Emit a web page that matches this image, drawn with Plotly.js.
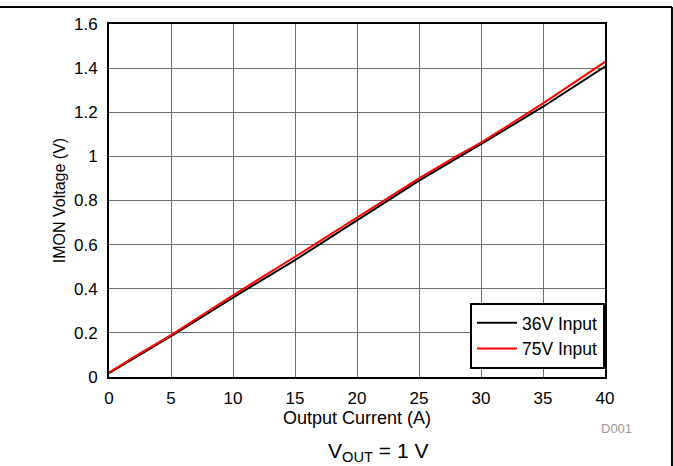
<!DOCTYPE html>
<html><head><meta charset="utf-8">
<script src="https://cdn.plot.ly/plotly-3.0.1.min.js"></script>
<style>html,body{margin:0;padding:0;background:#fff}#c{width:673px;height:466px}</style>
</head><body><div id="c"></div>
<script>
const current = [0, 2, 5, 10, 15, 20, 25, 28, 30, 35, 40];
const v36 = [0.018, 0.085, 0.185, 0.36, 0.53, 0.71, 0.89, 0.99, 1.055, 1.225, 1.407];
const v75 = [0.02, 0.09, 0.19, 0.37, 0.545, 0.722, 0.9, 1.0, 1.062, 1.24, 1.428];
const seriesNames = ["36V Input", "75V Input"];
const xTicks = [0, 5, 10, 15, 20, 25, 30, 35, 40];
const yTicks = [0, 0.2, 0.4, 0.6, 0.8, 1, 1.2, 1.4, 1.6];

const fam = "Liberation Sans, Arial, sans-serif";
const data = [
  {x: current, y: v36, name: seriesNames[0], mode: "lines", line: {color: "#000000", width: 2}},
  {x: current, y: v75, name: seriesNames[1], mode: "lines", line: {color: "#ff0000", width: 2}}
];
const layout = {
  width: 673, height: 466,
  margin: {l: 109, r: 68, t: 24, b: 89},
  paper_bgcolor: "#fff", plot_bgcolor: "#fff",
  font: {family: fam, size: 17, color: "#000"},
  showlegend: true,
  legend: {x: 1, xanchor: "right", y: 0.023, yanchor: "bottom",
    bordercolor: "#000", borderwidth: 2, bgcolor: "#fff",
    font: {family: fam, size: 17.5, color: "#000"}, tracegroupgap: 0, itemwidth: 40},
  xaxis: {range: [0, 40], tickvals: xTicks, ticktext: xTicks.map(String),
    showgrid: true, gridcolor: "#6e6e6e", gridwidth: 1,
    showline: true, linecolor: "#000", linewidth: 2, mirror: true,
    ticks: "", zeroline: false, ticklabelstandoff: 5,
    tickfont: {family: fam, size: 17, color: "#000"},
    title: {text: "Output Current (A)", font: {family: fam, size: 18, color: "#000"}, standoff: 1}},
  yaxis: {range: [0, 1.6], tickvals: yTicks, ticktext: yTicks.map(String),
    showgrid: true, gridcolor: "#6e6e6e", gridwidth: 1,
    showline: true, linecolor: "#000", linewidth: 2, mirror: true,
    ticks: "", zeroline: false, ticklabelstandoff: 6,
    tickfont: {family: fam, size: 17, color: "#000"},
    title: {text: "IMON Voltage (V)", font: {family: fam, size: 16, color: "#000"}, standoff: 4}},
  shapes: [
    {type: "line", xref: "paper", yref: "paper", x0: -0.25, x1: 1.135, y0: 1.048, y1: 1.048, line: {color: "#000", width: 2}},
    {type: "line", xref: "paper", yref: "paper", x0: 1.135, x1: 1.135, y0: 1.048, y1: -0.26, line: {color: "#000", width: 2}}
  ],
  annotations: [
    {xref: "paper", yref: "paper", x: 0.542, y: -0.212, yanchor: "middle", showarrow: false,
     text: "V<sub>OUT</sub> = 1 V", font: {family: fam, size: 21, color: "#000"}},
    {xref: "paper", yref: "paper", x: 1.024, y: -0.145, xanchor: "center", yanchor: "middle", showarrow: false,
     text: "D001", font: {family: fam, size: 13, color: "#999"}}
  ]
};
Plotly.newPlot("c", data, layout, {staticPlot: true, displayModeBar: false});
</script></body></html>
